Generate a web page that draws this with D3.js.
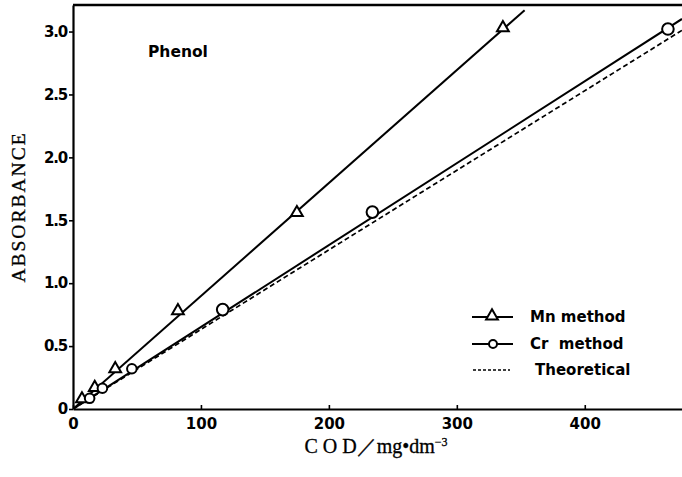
<!DOCTYPE html>
<html><head><meta charset="utf-8">
<script src="https://cdn.jsdelivr.net/npm/d3@7"></script>
<style>body{margin:0;background:#fff}svg{display:block}</style>
</head><body>
<script>
// Data (COD mg/dm3 vs absorbance)
const mnCOD = [7, 17, 33, 82, 175, 336];
const mnAbs = [0.08, 0.17, 0.32, 0.78, 1.56, 3.03];
const crCOD = [13, 23, 46, 117, 234, 465];
const crAbs = [0.085, 0.165, 0.32, 0.79, 1.565, 3.02];
const mnFitCOD = [0, 353];
const mnFitAbs = [0, 3.17];
const crFitCOD = [0, 476];
const crFitAbs = [0, 3.10];
const theoCOD = [0, 476];
const theoAbs = [0, 3.01];
const xTicks = [0, 100, 200, 300, 400];
const yTicks = [0, 0.5, 1.0, 1.5, 2.0, 2.5, 3.0];
const legendLabels = ["Mn method", "Cr  method", "Theoretical"];

const W = 682, H = 477;
const svg = d3.select("body").append("svg").attr("width", W).attr("height", H);
const x = d3.scaleLinear().domain([0, 476]).range([73, 682]);
const y = d3.scaleLinear().domain([0, 3.211]).range([409, 5]);

// axes
const yAxis = d3.axisLeft(y).tickValues(yTicks).tickSize(4).tickSizeOuter(0).tickPadding(2)
  .tickFormat(d => d === 0 ? "0" : d3.format(".1f")(d));
const gy = svg.append("g").attr("transform", `translate(${x(0)},0)`).call(yAxis);
gy.selectAll("text").style("font-family", "DejaVu Sans").style("font-weight", "bold")
  .style("font-size", "15px").style("letter-spacing", "-1.2px").attr("fill", "#000");
gy.select(".domain").attr("stroke-width", 2.2);
gy.selectAll(".tick line").attr("stroke-width", 1.6);

const xAxis = d3.axisBottom(x).tickValues(xTicks).tickSize(-4).tickSizeOuter(0).tickPadding(9)
  .tickFormat(d3.format("d"));
const gx = svg.append("g").attr("transform", `translate(0,${y(0)})`).call(xAxis);
gx.selectAll("text").style("font-family", "DejaVu Sans").style("font-weight", "bold")
  .style("font-size", "15px").attr("fill", "#000");
gx.select(".domain").attr("stroke-width", 2.2);
gx.selectAll(".tick line").attr("stroke-width", 1.6);

// top frame line
svg.append("line").attr("x1", x(0)).attr("x2", W).attr("y1", y(3.211)).attr("y2", y(3.211))
  .attr("stroke", "#000").attr("stroke-width", 2.4);

// clip
svg.append("clipPath").attr("id", "clip").append("rect")
  .attr("x", x(0)).attr("y", y(3.211)).attr("width", W - x(0)).attr("height", y(0) - y(3.211));

const line = d3.line().x(d => x(d[0])).y(d => y(d[1]));
const plot = svg.append("g").attr("clip-path", "url(#clip)");
plot.append("path").datum(theoCOD.map((c, i) => [c, theoAbs[i]])).attr("d", line)
  .attr("fill", "none").attr("stroke", "#000").attr("stroke-width", 1.7).attr("stroke-dasharray", "5,3");
plot.append("path").datum(crFitCOD.map((c, i) => [c, crFitAbs[i]])).attr("d", line)
  .attr("fill", "none").attr("stroke", "#000").attr("stroke-width", 2);
plot.append("path").datum(mnFitCOD.map((c, i) => [c, mnFitAbs[i]])).attr("d", line)
  .attr("fill", "none").attr("stroke", "#000").attr("stroke-width", 2);

const tri = d3.symbol().type(d3.symbolTriangle).size(60);
svg.append("g").selectAll("path").data(mnCOD.map((c, i) => [c, mnAbs[i]])).join("path")
  .attr("d", tri).attr("transform", d => `translate(${x(d[0])},${y(d[1])})`)
  .attr("fill", "#fff").attr("stroke", "#000").attr("stroke-width", 2);
svg.append("g").selectAll("circle").data(crCOD.map((c, i) => [c, crAbs[i]])).join("circle")
  .attr("cx", d => x(d[0])).attr("cy", d => y(d[1])).attr("r", d => d[0] > 100 ? 5.8 : 4.8)
  .attr("fill", "#fff").attr("stroke", "#000").attr("stroke-width", 2);

// Phenol label
svg.append("text").attr("x", 148).attr("y", 57).text("Phenol")
  .style("font-family", "DejaVu Sans").style("font-weight", "bold").style("font-size", "15.5px");

// legend
const lg = svg.append("g");
const ly = [317, 344, 370];
lg.append("line").attr("x1", 472).attr("x2", 513).attr("y1", ly[0]).attr("y2", ly[0]).attr("stroke", "#000").attr("stroke-width", 2);
lg.append("path").attr("d", tri).attr("transform", `translate(492,${ly[0] - 1})`).attr("fill", "#fff").attr("stroke", "#000").attr("stroke-width", 2);
lg.append("line").attr("x1", 472).attr("x2", 513).attr("y1", ly[1]).attr("y2", ly[1]).attr("stroke", "#000").attr("stroke-width", 2);
lg.append("circle").attr("cx", 493).attr("cy", ly[1]).attr("r", 4).attr("fill", "#fff").attr("stroke", "#000").attr("stroke-width", 2);
lg.append("line").attr("x1", 473).attr("x2", 510).attr("y1", ly[2]).attr("y2", ly[2]).attr("stroke", "#000").attr("stroke-width", 1.7).attr("stroke-dasharray", "3,2");
const lx = [530, 530, 535];
lg.selectAll("text").data(legendLabels).join("text")
  .attr("x", (d, i) => lx[i]).attr("y", (d, i) => ly[i] + 5).text(d => d)
  .style("white-space", "pre").attr("xml:space", "preserve")
  .style("font-family", "DejaVu Sans").style("font-weight", "bold").style("font-size", "15px");

// axis titles
svg.append("text").attr("transform", "translate(25,207) rotate(-90)").attr("text-anchor", "middle")
  .text("ABSORBANCE").style("font-family", "Liberation Serif").style("font-size", "19.5px")
  .style("letter-spacing", "2px").style("stroke", "#000").style("stroke-width", "0.3px");
const xt = svg.append("text").attr("x", 376).attr("y", 453).attr("text-anchor", "middle")
  .style("font-family", "Liberation Serif").style("font-size", "20px")
  .style("stroke", "#000").style("stroke-width", "0.3px");
xt.append("tspan").text("C O D／mg•dm");
xt.append("tspan").attr("dy", -7).style("font-size", "12px").text("−3");
</script>
</body></html>
